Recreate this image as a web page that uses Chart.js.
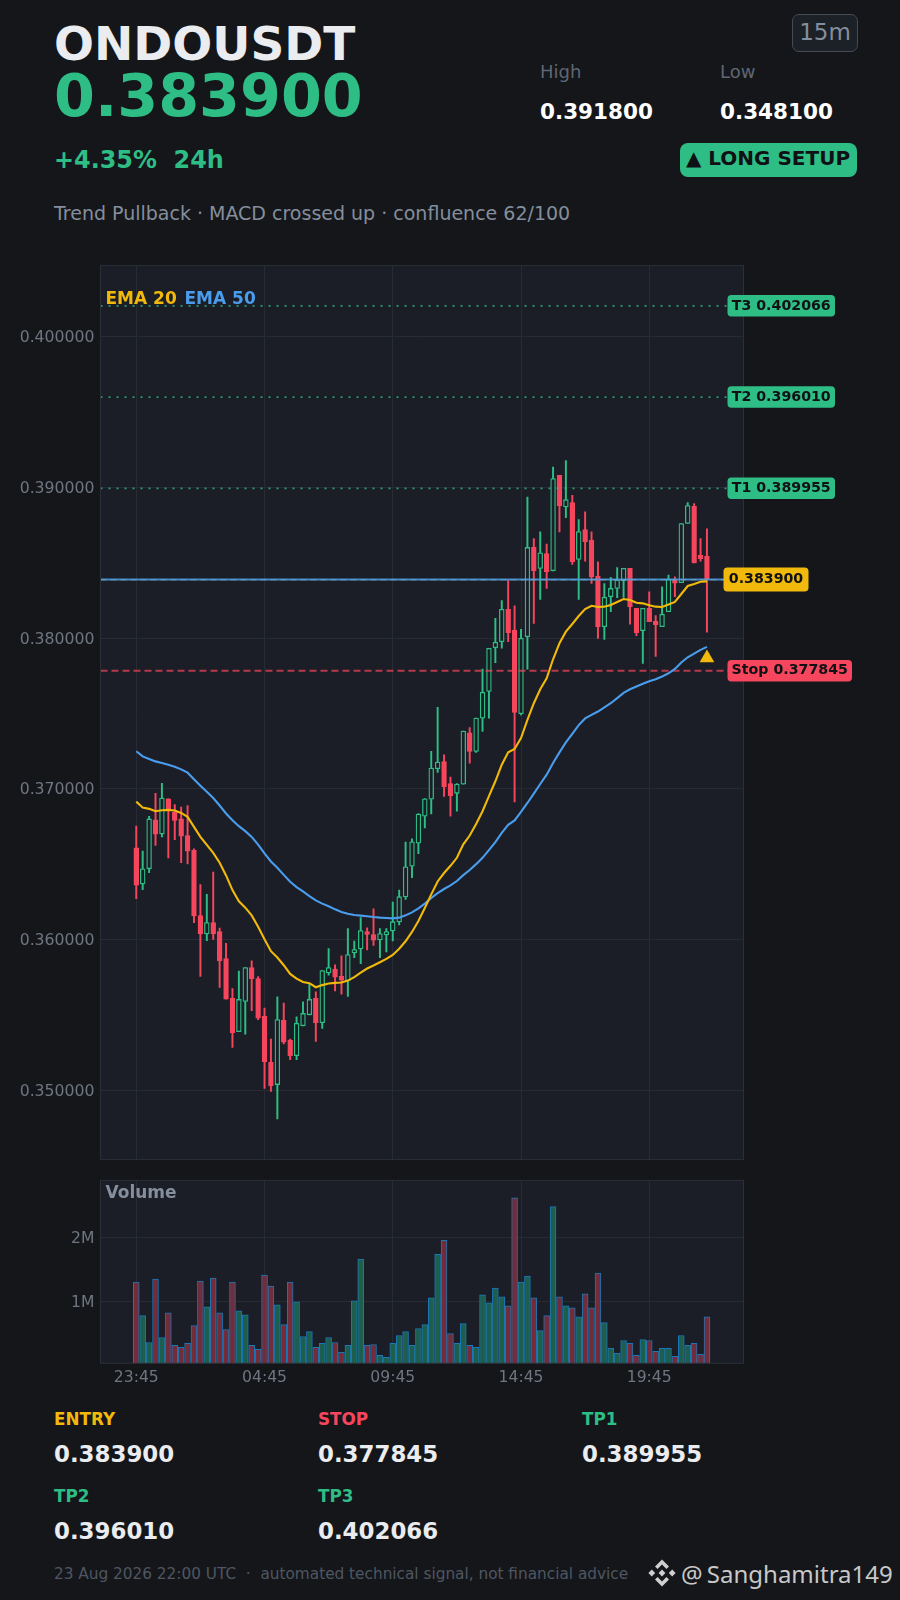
<!DOCTYPE html>
<html>
<head>
<meta charset="utf-8">
<script src="https://cdn.jsdelivr.net/npm/chart.js@4"></script>
<style>
  html, body { margin: 0; padding: 0; background: #14161a; }
  #page { position: relative; width: 900px; height: 1600px; overflow: hidden; background: #14161a;
    font-family: "DejaVu Sans", sans-serif; }
  #page canvas { position: absolute; left: 0; }
  .t { position: absolute; white-space: pre; line-height: 1; z-index: 3; }
  .b { font-weight: bold; }
  .green { color: #2ebd85; }
  .red { color: #f6465d; }
  .yellow { color: #f0b90b; }
  .blue { color: #4a9ded; }
  .val { color: #eaecef; font-weight: bold; font-size: 22.9px; }
  .lbl { font-weight: bold; font-size: 16.8px; }
  #tf { position: absolute; left: 792px; top: 13.5px; width: 64px; height: 36px; border: 1px solid #454a55;
    border-radius: 7px; background: #1c2027; color: #848e9c; font-size: 23px; text-align: center; line-height: 34px; }
  #setup { position: absolute; left: 679.5px; top: 143px; width: 177px; height: 34px; border-radius: 8px;
    background: #2ebd85; color: #0f1115; font-weight: bold; font-size: 20px; text-align: center; line-height: 31px; white-space: pre; }
</style>
</head>
<body>
<div id="page">
  <div class="t b" style="left:54px;top:20px;font-size:47px;color:#eaecef">ONDOUSDT</div>
  <div class="t b green" style="left:54px;top:67px;font-size:58.8px">0.383900</div>
  <div class="t b green" style="left:54px;top:149px;font-size:23.9px">+4.35%  24h</div>
  <div class="t" style="left:54px;top:203.5px;font-size:19px;color:#848e9c">Trend Pullback · MACD crossed up · confluence 62/100</div>
  <div class="t" style="left:540px;top:63px;font-size:18px;color:#5e6673">High</div>
  <div class="t" style="left:720px;top:63px;font-size:18px;color:#5e6673">Low</div>
  <div class="t b" style="left:540px;top:101px;font-size:21.5px;color:#fff">0.391800</div>
  <div class="t b" style="left:720px;top:101px;font-size:21.5px;color:#fff">0.348100</div>
  <div id="tf">15m</div>
  <div id="setup">▲ LONG SETUP</div>

  <canvas id="priceChart" width="900" height="925" style="top:250px"></canvas>
  <canvas id="volumeChart" width="900" height="235" style="top:1165px"></canvas>

  <div class="t b yellow" style="left:105.5px;top:289.5px;font-size:17px">EMA 20</div>
  <div class="t b blue" style="left:184.5px;top:289.5px;font-size:17px">EMA 50</div>
  <div class="t b" style="left:105.5px;top:1183.5px;font-size:17px;color:#848e9c">Volume</div>

  <div class="t lbl yellow" style="left:54px;top:1411px">ENTRY</div>
  <div class="t val" style="left:54px;top:1443px">0.383900</div>
  <div class="t lbl red" style="left:318px;top:1411px">STOP</div>
  <div class="t val" style="left:318px;top:1443px">0.377845</div>
  <div class="t lbl green" style="left:582px;top:1411px">TP1</div>
  <div class="t val" style="left:582px;top:1443px">0.389955</div>
  <div class="t lbl green" style="left:54px;top:1488px">TP2</div>
  <div class="t val" style="left:54px;top:1520px">0.396010</div>
  <div class="t lbl green" style="left:318px;top:1488px">TP3</div>
  <div class="t val" style="left:318px;top:1520px">0.402066</div>

  <div class="t" style="left:54px;top:1567px;font-size:15.3px;color:#4f5662">23 Aug 2026 22:00 UTC  ·  automated technical signal, not financial advice</div>
  <svg class="t" style="left:648px;top:1559px" width="28" height="28" viewBox="0 0 28 28" fill="#cfcfcf">
    <polygon points="14,0.5 21,7.5 18.4,10 14,5.6 9.6,10 7,7.5"/>
    <polygon points="14,27.5 21,20.5 18.4,18 14,22.4 9.6,18 7,20.5"/>
    <polygon points="14,10.6 17.4,14 14,17.4 10.6,14"/>
    <polygon points="3.8,10.6 7.2,14 3.8,17.4 0.4,14"/>
    <polygon points="24.2,10.6 27.6,14 24.2,17.4 20.8,14"/>
  </svg>
  <div class="t" style="left:681px;top:1562px;font-size:24px;color:#c8c8c8;font-family:'Noto Sans',sans-serif;word-spacing:-2px">@ Sanghamitra149</div>
</div>

<script>
// candles
const opens = [
  0.36609, 0.36369, 0.36470, 0.36795, 0.36702, 0.36934, 0.36845, 0.36801, 0.36691, 0.36592,
  0.36159, 0.36038, 0.36113, 0.36053, 0.35874, 0.35611, 0.35389, 0.35590, 0.35815, 0.35742,
  0.35490, 0.35185, 0.35038, 0.35464, 0.35333, 0.35230, 0.35428, 0.35501, 0.35611, 0.35448,
  0.35779, 0.35804, 0.35757, 0.35726, 0.35912, 0.35938, 0.36053, 0.36033, 0.35998, 0.36031,
  0.36057, 0.36117, 0.36283, 0.36488, 0.36640, 0.36819, 0.36932, 0.37135, 0.37181, 0.37035,
  0.36971, 0.37031, 0.37373, 0.37249, 0.37470, 0.37647, 0.37938, 0.37978, 0.38192, 0.38055,
  0.37499, 0.38011, 0.38603, 0.38464, 0.38563, 0.38448, 0.39082, 0.38872, 0.38901, 0.38523,
  0.38722, 0.38651, 0.38413, 0.38077, 0.38276, 0.38331, 0.38382, 0.38464, 0.38199, 0.38051,
  0.38199, 0.38113, 0.38077, 0.38177, 0.38386, 0.38369, 0.38762, 0.38876, 0.38550, 0.38545
];
const highs = [
  0.36753, 0.36587, 0.36819, 0.36971, 0.37038, 0.36934, 0.36896, 0.36879, 0.36890, 0.36603,
  0.36366, 0.36300, 0.36448, 0.36077, 0.35976, 0.35675, 0.35792, 0.35815, 0.35859, 0.35755,
  0.35545, 0.35340, 0.35620, 0.35578, 0.35340, 0.35488, 0.35587, 0.35704, 0.35653, 0.35795,
  0.35940, 0.35832, 0.35892, 0.36073, 0.35991, 0.36146, 0.36079, 0.36205, 0.36073, 0.36073,
  0.36249, 0.36329, 0.36647, 0.36669, 0.36837, 0.36936, 0.37249, 0.37541, 0.37227, 0.37079,
  0.37035, 0.37384, 0.37408, 0.37470, 0.37795, 0.37934, 0.38132, 0.38250, 0.38386, 0.38216,
  0.38060, 0.38938, 0.38662, 0.38706, 0.38625, 0.39137, 0.39082, 0.39180, 0.38949, 0.38788,
  0.38839, 0.38706, 0.38508, 0.38364, 0.38404, 0.38470, 0.38464, 0.38464, 0.38199, 0.38199,
  0.38309, 0.38150, 0.38342, 0.38419, 0.38408, 0.38762, 0.38901, 0.38894, 0.38662, 0.38726
];
const lows = [
  0.36272, 0.36331, 0.36444, 0.36625, 0.36682, 0.36543, 0.36664, 0.36510, 0.36503, 0.36113,
  0.35755, 0.35993, 0.36002, 0.35682, 0.35605, 0.35285, 0.35389, 0.35373, 0.35528, 0.35468,
  0.35013, 0.34993, 0.34810, 0.35307, 0.35203, 0.35203, 0.35428, 0.35501, 0.35324, 0.35411,
  0.35764, 0.35660, 0.35638, 0.35623, 0.35881, 0.35841, 0.35932, 0.35962, 0.35881, 0.35918,
  0.35991, 0.36097, 0.36267, 0.36411, 0.36570, 0.36742, 0.36834, 0.37110, 0.36951, 0.36819,
  0.36852, 0.37031, 0.37172, 0.37243, 0.37382, 0.37470, 0.37839, 0.37934, 0.37978, 0.36914,
  0.37492, 0.37795, 0.38099, 0.38258, 0.38331, 0.38448, 0.38706, 0.38801, 0.38490, 0.38258,
  0.38512, 0.38364, 0.38000, 0.37993, 0.38177, 0.38269, 0.38272, 0.38093, 0.38018, 0.37834,
  0.38110, 0.37879, 0.38077, 0.38177, 0.38276, 0.38369, 0.38762, 0.38501, 0.38512, 0.38040
];
const closes = [
  0.36362, 0.36470, 0.36801, 0.36700, 0.36940, 0.36863, 0.36792, 0.36687, 0.36587, 0.36157,
  0.36038, 0.36113, 0.36038, 0.35859, 0.35605, 0.35382, 0.35603, 0.35815, 0.35740, 0.35479,
  0.35190, 0.35031, 0.35470, 0.35320, 0.35230, 0.35444, 0.35510, 0.35603, 0.35448, 0.35795,
  0.35815, 0.35751, 0.35731, 0.35901, 0.35934, 0.36060, 0.36035, 0.35996, 0.36040, 0.36053,
  0.36119, 0.36285, 0.36483, 0.36649, 0.36834, 0.36934, 0.37139, 0.37179, 0.37015, 0.36956,
  0.37033, 0.37384, 0.37249, 0.37470, 0.37642, 0.37934, 0.37974, 0.38192, 0.38038, 0.37508,
  0.38000, 0.38603, 0.38448, 0.38567, 0.38442, 0.39060, 0.38879, 0.38920, 0.38508, 0.38709,
  0.38640, 0.38408, 0.38077, 0.38272, 0.38331, 0.38386, 0.38464, 0.38210, 0.38038, 0.38199,
  0.38110, 0.38091, 0.38159, 0.38391, 0.38366, 0.38762, 0.38881, 0.38501, 0.38528, 0.38390
];
const ema20 = [
  0.36916, 0.36876, 0.36868, 0.36852, 0.36859, 0.36861, 0.36857, 0.36841, 0.36815, 0.36748,
  0.36682, 0.36629, 0.36576, 0.36510, 0.36426, 0.36329, 0.36254, 0.36212, 0.36161, 0.36086,
  0.36002, 0.35923, 0.35881, 0.35830, 0.35772, 0.35741, 0.35719, 0.35711, 0.35684, 0.35698,
  0.35709, 0.35713, 0.35715, 0.35728, 0.35751, 0.35781, 0.35808, 0.35828, 0.35850, 0.35872,
  0.35898, 0.35940, 0.35989, 0.36051, 0.36124, 0.36210, 0.36300, 0.36386, 0.36442, 0.36490,
  0.36543, 0.36632, 0.36691, 0.36768, 0.36852, 0.36952, 0.37051, 0.37161, 0.37243, 0.37265,
  0.37338, 0.37459, 0.37569, 0.37662, 0.37735, 0.37861, 0.37967, 0.38044, 0.38095, 0.38148,
  0.38194, 0.38216, 0.38208, 0.38210, 0.38221, 0.38241, 0.38261, 0.38254, 0.38236, 0.38232,
  0.38219, 0.38210, 0.38208, 0.38225, 0.38241, 0.38294, 0.38347, 0.38360, 0.38375, 0.38378
];
const ema50 = [
  0.37250, 0.37216, 0.37199, 0.37183, 0.37172, 0.37161, 0.37148, 0.37130, 0.37108, 0.37064,
  0.37022, 0.36982, 0.36940, 0.36890, 0.36837, 0.36792, 0.36753, 0.36720, 0.36682, 0.36631,
  0.36572, 0.36519, 0.36477, 0.36430, 0.36384, 0.36349, 0.36320, 0.36289, 0.36260, 0.36239,
  0.36221, 0.36201, 0.36183, 0.36172, 0.36163, 0.36159, 0.36155, 0.36150, 0.36146, 0.36144,
  0.36141, 0.36146, 0.36161, 0.36181, 0.36208, 0.36239, 0.36276, 0.36309, 0.36336, 0.36360,
  0.36389, 0.36428, 0.36462, 0.36501, 0.36543, 0.36594, 0.36647, 0.36709, 0.36762, 0.36791,
  0.36848, 0.36907, 0.36969, 0.37033, 0.37095, 0.37172, 0.37243, 0.37309, 0.37366, 0.37424,
  0.37468, 0.37492, 0.37514, 0.37541, 0.37569, 0.37603, 0.37638, 0.37662, 0.37680, 0.37698,
  0.37715, 0.37728, 0.37746, 0.37768, 0.37797, 0.37839, 0.37874, 0.37898, 0.37923, 0.37943
];
// volume in millions
const volumes = [
  1.308, 0.785, 0.369, 1.354, 0.446, 0.831, 0.323, 0.292, 0.354, 0.631,
  1.323, 0.923, 1.369, 0.831, 0.569, 1.308, 0.862, 0.800, 0.323, 0.262,
  1.415, 1.246, 0.954, 0.646, 1.308, 1.000, 0.462, 0.538, 0.292, 0.354,
  0.446, 0.369, 0.215, 0.323, 1.015, 1.662, 0.323, 0.338, 0.169, 0.138,
  0.354, 0.477, 0.538, 0.323, 0.585, 0.646, 1.062, 1.738, 1.954, 0.508,
  0.354, 0.662, 0.323, 0.292, 1.108, 0.985, 1.215, 1.077, 0.938, 2.615,
  1.308, 1.400, 1.062, 0.554, 0.785, 2.477, 1.077, 0.938, 0.908, 0.769,
  1.123, 0.908, 1.446, 0.677, 0.277, 0.200, 0.400, 0.354, 0.169, 0.415,
  0.400, 0.231, 0.277, 0.277, 0.154, 0.477, 0.323, 0.354, 0.185, 0.769
];
const timeTicks = [0, 20, 40, 60, 80];
const timeLabels = ["23:45", "04:45", "09:45", "14:45", "19:45"];
const priceTicks = [0.35, 0.36, 0.37, 0.38, 0.39, 0.40];
const volumeTicks = [1, 2];
const targetNames = ["T3", "T2", "T1"];
const targetPrices = [0.402066, 0.39601, 0.389955];
const entryPrice = 0.3839;
const stopPrice = 0.377845;
const markerIndex = 89;
const markerPrice = 0.3787;

const GREEN = "#2ebd85", RED = "#f6465d", YELLOW = "#f0b90b", BLUE = "#4a9ded";
const PANEL = "#1b1e26", GRID = "#272b34", FRAME = "#2b2f38", TICK = "#6f7682";
const X_MIN = -5.58, X_MAX = 94.7;

const isUp = closes.map((c, i) => c >= opens[i]);
const indexes = closes.map((c, i) => i);

function hline(price) {
  return [{ x: X_MIN, y: price }, { x: X_MAX, y: price }];
}

function levelLine(price, color, dash, width, order) {
  return { type: "line", data: hline(price), borderColor: color, borderWidth: width, borderDash: dash,
    pointRadius: 0, order: order };
}

// panel background and frame, tags on the right
const panelPlugin = {
  id: "panel",
  beforeDraw(chart) {
    const a = chart.chartArea, c = chart.ctx;
    c.fillStyle = PANEL;
    c.fillRect(a.left, a.top, a.width, a.height);
    // y labels sit a little below their grid line
    chart.scales.y.getLabelItems(a).forEach(item => { item.options.translation[1] += 1.3; });
  },
  afterDraw(chart) {
    const a = chart.chartArea, c = chart.ctx;
    c.strokeStyle = FRAME;
    c.lineWidth = 1;
    c.strokeRect(a.left, a.top, a.width, a.height);
  }
};

function tag(chart, text, price, left, right, height, bg) {
  const c = chart.ctx, y = chart.scales.y.getPixelForValue(price);
  c.save();
  c.fillStyle = bg;
  c.beginPath();
  c.roundRect(left, y - height / 2, right - left, height, 4);
  c.fill();
  c.fillStyle = "#0f1115";
  c.font = "bold 14.2px 'DejaVu Sans'";
  c.textAlign = "center";
  c.textBaseline = "middle";
  c.fillText(text, (left + right) / 2, y);
  c.restore();
}

const tagPlugin = {
  id: "tags",
  afterDraw(chart) {
    targetPrices.forEach((p, i) => {
      tag(chart, targetNames[i] + " " + p.toFixed(6), p, 727.5, 835, 21.5, GREEN);
    });
    tag(chart, entryPrice.toFixed(6), entryPrice, 723.5, 808.5, 24, YELLOW);
    tag(chart, "Stop " + stopPrice.toFixed(6), stopPrice, 727.5, 852, 21.5, RED);
  }
};

const xGrid = { color: GRID, lineWidth: 1, drawTicks: false, offset: false };
const yGrid = { color: GRID, lineWidth: 1, drawTicks: false };

new Chart(document.getElementById("priceChart"), {
  type: "bar",
  data: {
    datasets: [
      // wicks
      { data: indexes.map(i => ({ x: i, y: [lows[i], highs[i]] })), barThickness: 1.3, grouped: false,
        backgroundColor: isUp.map(u => u ? GREEN : RED), borderWidth: 0, order: 6 },
      // bodies
      { data: indexes.map(i => ({ x: i, y: [opens[i], closes[i]] })), barThickness: 4.8, grouped: false,
        backgroundColor: isUp.map(u => u ? PANEL : RED), borderColor: isUp.map(u => u ? GREEN : RED),
        borderWidth: 1.3, borderSkipped: false, order: 5 },
      levelLine(targetPrices[0], "rgba(46,189,133,0.8)", [2, 6], 1.8, 4),
      levelLine(targetPrices[1], "rgba(46,189,133,0.8)", [2, 6], 1.8, 4),
      levelLine(targetPrices[2], "rgba(46,189,133,0.8)", [2, 6], 1.8, 4),
      levelLine(stopPrice, "rgba(246,70,93,0.7)", [7, 4], 1.8, 4),
      levelLine(entryPrice, "rgba(240,185,11,0.8)", [6, 4], 1.2, 3),
      levelLine(entryPrice, "rgba(74,157,237,0.85)", [], 2, 2),
      { type: "line", data: indexes.map(i => ({ x: i, y: ema20[i] })), borderColor: YELLOW, borderWidth: 2.1,
        pointRadius: 0, tension: 0, order: 1 },
      { type: "line", data: indexes.map(i => ({ x: i, y: ema50[i] })), borderColor: BLUE, borderWidth: 2.1,
        pointRadius: 0, tension: 0, order: 1 },
      { type: "scatter", data: [{ x: markerIndex, y: markerPrice }], pointStyle: "triangle", pointRadius: 8.5,
        backgroundColor: YELLOW, borderWidth: 0, order: 0 }
    ]
  },
  plugins: [panelPlugin, tagPlugin],
  options: {
    responsive: false,
    animation: false,
    layout: { padding: { left: 0, right: 156.5, top: 14.5, bottom: 14.3 } },
    plugins: { legend: { display: false }, tooltip: { enabled: false } },
    scales: {
      x: {
        type: "linear", min: X_MIN, max: X_MAX, offset: false,
        grid: xGrid, border: { display: false },
        ticks: { display: false },
        afterBuildTicks: s => { s.ticks = timeTicks.map(v => ({ value: v })); }
      },
      y: {
        min: 0.3454, max: 0.40475,
        grid: yGrid, border: { display: false },
        ticks: { color: TICK, font: { family: "DejaVu Sans", size: 15.7 }, padding: 6, callback: v => v.toFixed(6) },
        afterBuildTicks: s => { s.ticks = priceTicks.map(v => ({ value: v })); },
        afterFit: s => { s.width = 100.5; }
      }
    }
  }
});

new Chart(document.getElementById("volumeChart"), {
  type: "bar",
  data: {
    datasets: [{
      data: indexes.map(i => ({ x: i, y: volumes[i] })), barThickness: 5.9,
      backgroundColor: isUp.map(u => u ? "#1e5e4c" : "#722c3a"),
      borderColor: "#1b78b8", borderWidth: 1, borderSkipped: false
    }]
  },
  plugins: [panelPlugin],
  options: {
    responsive: false,
    animation: false,
    layout: { padding: { left: 0, right: 156.5, top: 13.5, bottom: 0 } },
    plugins: { legend: { display: false }, tooltip: { enabled: false } },
    scales: {
      x: {
        type: "linear", min: X_MIN, max: X_MAX, offset: false,
        grid: xGrid, border: { display: false },
        ticks: {
          color: TICK, font: { family: "DejaVu Sans", size: 15.6 }, padding: 5, maxRotation: 0, autoSkip: false,
          callback: v => timeLabels[timeTicks.indexOf(v)]
        },
        afterBuildTicks: s => { s.ticks = timeTicks.map(v => ({ value: v })); },
        afterFit: s => { s.height = 36.7; }
      },
      y: {
        min: 0.046, max: 2.885,
        grid: yGrid, border: { display: false },
        ticks: { color: TICK, font: { family: "DejaVu Sans", size: 15.6 }, padding: 6, callback: v => v + "M" },
        afterBuildTicks: s => { s.ticks = volumeTicks.map(v => ({ value: v })); },
        afterFit: s => { s.width = 100.5; }
      }
    }
  }
});
</script>
</body>
</html>
